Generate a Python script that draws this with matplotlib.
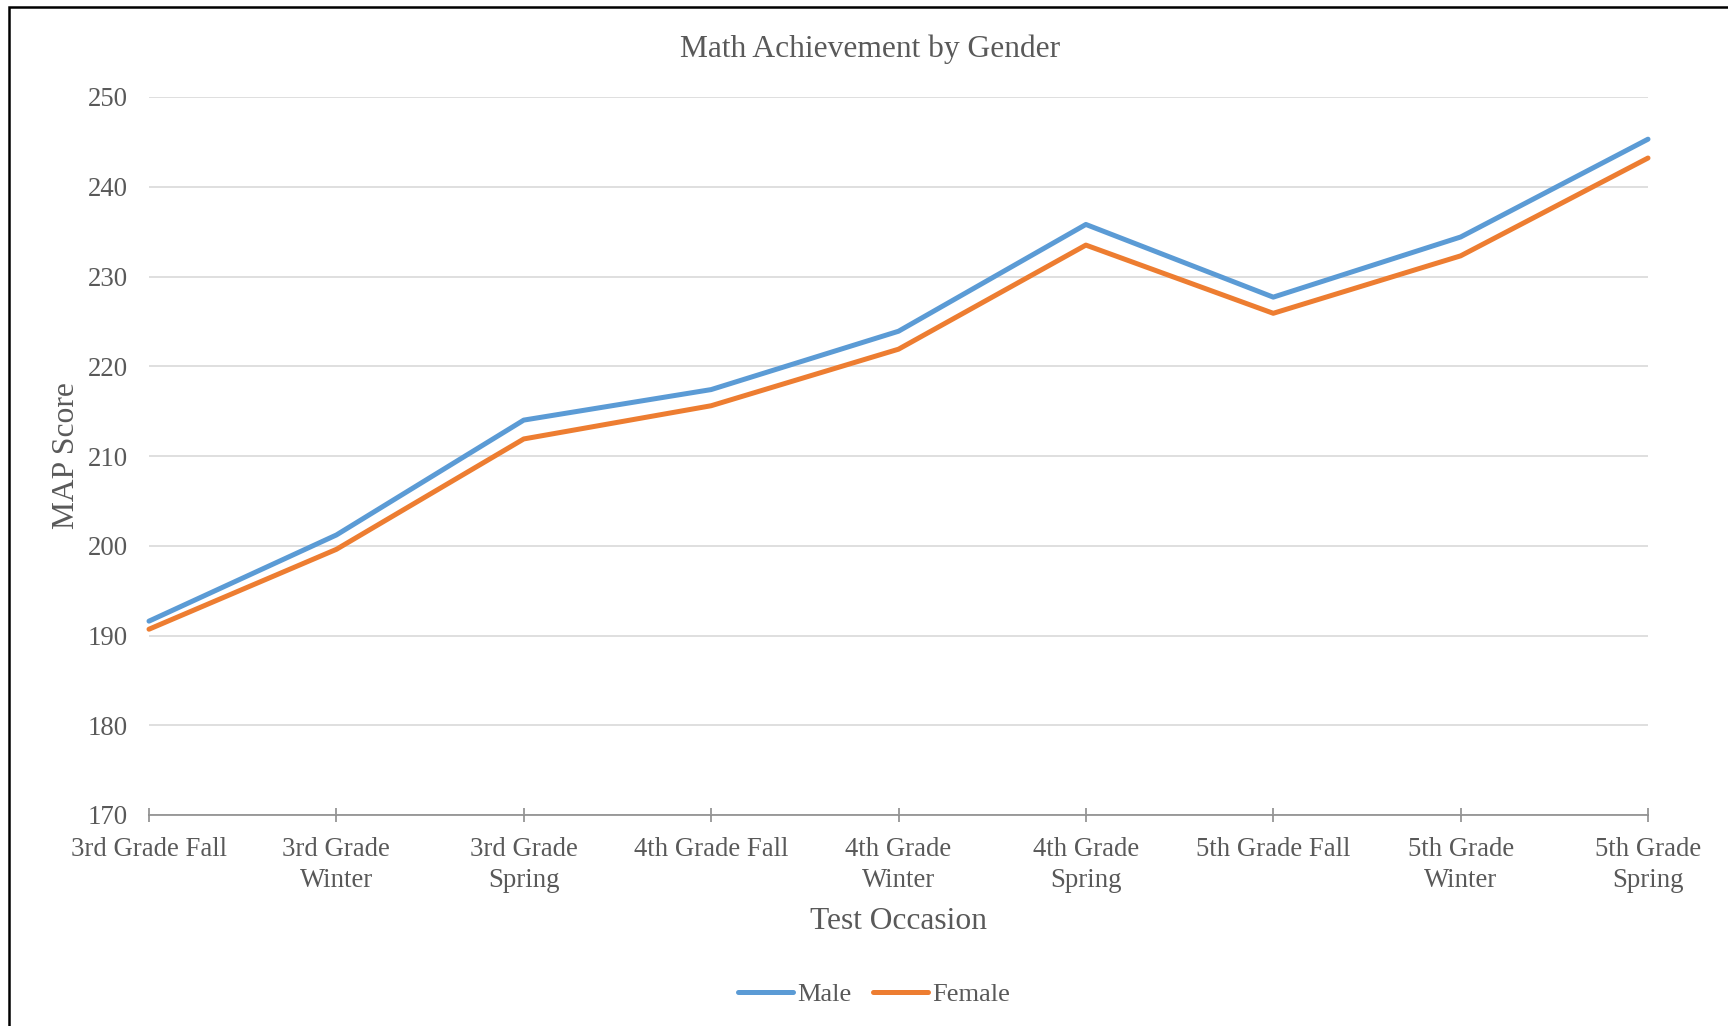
import matplotlib
matplotlib.use("Agg")
import matplotlib.pyplot as plt
from matplotlib.patches import Rectangle

# Test occasions (x categories) and mean MAP math scores by gender
occasions = ["3rd Grade Fall", "3rd Grade\nWinter", "3rd Grade\nSpring",
             "4th Grade Fall", "4th Grade\nWinter", "4th Grade\nSpring",
             "5th Grade Fall", "5th Grade\nWinter", "5th Grade\nSpring"]
male = [191.6, 201.2, 214.0, 217.4, 223.9, 235.8, 227.7, 234.4, 245.3]
female = [190.7, 199.6, 211.9, 215.6, 221.9, 233.5, 225.9, 232.3, 243.2]
y_ticks = [170, 180, 190, 200, 210, 220, 230, 240, 250]

MALE_C = "#5B9BD5"
FEMALE_C = "#ED7D31"
TEXT_C = "#595959"

plt.rcParams["font.family"] = ["Liberation Serif", "DejaVu Serif"]

W, H = 1728, 1026
fig = plt.figure(figsize=(W / 100, H / 100), dpi=100)
fig.patch.set_facecolor("white")

# plot area in pixel bounds -> figure fractions
left, right, top, bottom = 149, 1648, 97, 815
ax = fig.add_axes([left / W, 1 - bottom / H, (right - left) / W, (bottom - top) / H])

x = list(range(len(occasions)))
ax.plot(x, male, color=MALE_C, lw=3.6, solid_capstyle="round",
        solid_joinstyle="round", clip_on=False, label="Male", zorder=3)
ax.plot(x, female, color=FEMALE_C, lw=3.6, solid_capstyle="round",
        solid_joinstyle="round", clip_on=False, label="Female", zorder=3)

ax.set_xlim(0, len(occasions) - 1)
ax.set_ylim(y_ticks[0], y_ticks[-1])
ax.set_yticks(y_ticks)
ax.set_xticks(x)
ax.set_xticklabels(occasions)

ax.yaxis.grid(True, color="#d9d9d9", lw=1.2)
ax.set_axisbelow(True)
for s in ("top", "right", "left"):
    ax.spines[s].set_visible(False)
ax.spines["bottom"].set_color("#8c8c8c")
ax.spines["bottom"].set_linewidth(1.2)

ax.tick_params(axis="y", length=0, pad=15, labelsize=19.3, labelcolor=TEXT_C)
ax.tick_params(axis="x", direction="inout", length=10, width=1.2,
               color="#8c8c8c", pad=11, labelsize=19.3, labelcolor=TEXT_C)
for lbl in ax.get_xticklabels():
    lbl.set_linespacing(1.31)

fig.text(870 / W, 1 - 57 / H, "Math Achievement by Gender", ha="center",
         va="baseline", fontsize=22.7, color=TEXT_C)
fig.text(899 / W, 1 - 929 / H, "Test Occasion", ha="center", va="baseline",
         fontsize=22.7, color=TEXT_C)
fig.text(66 / W, 1 - 456 / H, "MAP Score", ha="center", va="center",
         rotation=90, fontsize=22.7, color=TEXT_C)

handles, labels = ax.get_legend_handles_labels()
fig.legend(handles, labels, loc="center", bbox_to_anchor=(874 / W, 1 - 994 / H),
           ncol=2, frameon=False, fontsize=19, handlelength=2.07,
           handletextpad=0.15, columnspacing=0.83, labelcolor=TEXT_C)

# chart frame (left and top edges visible)
fig.add_artist(Rectangle((8.5 / W, -0.1), 1.2, 1.1 - 7 / H,
                         transform=fig.transFigure, fill=False,
                         edgecolor="black", lw=1.8))

fig.savefig("out.png", dpi=100, facecolor="white")
